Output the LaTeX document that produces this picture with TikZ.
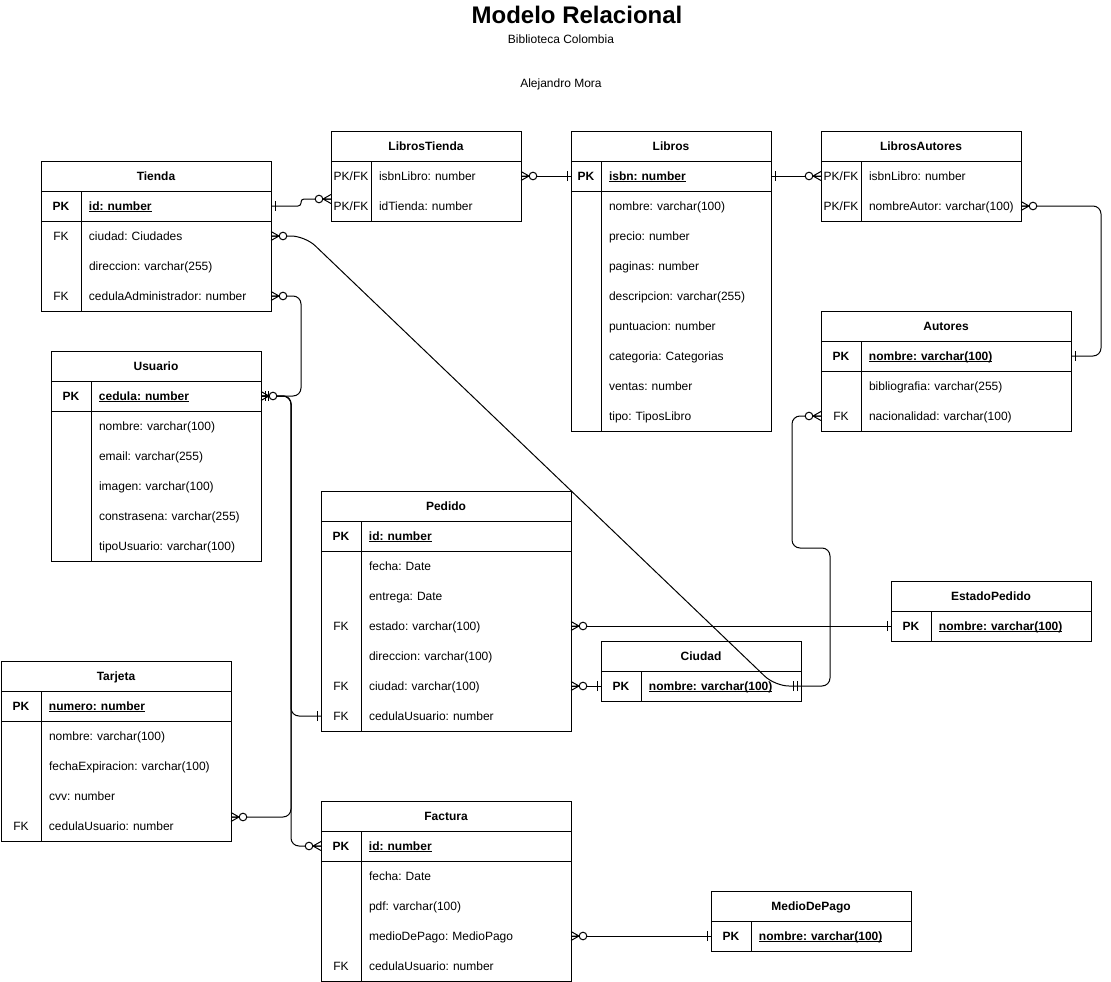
\documentclass[tikz,border=0pt]{standalone}
\usepackage{fontspec}
\setmainfont{Liberation Sans}
\usetikzlibrary{calc}
\frenchspacing
\newcommand\pkf[1]{\underline{\smash{\textbf{#1}}}}
\tikzset{
  tline/.style={line width=1pt, draw=black},
  hdrbox/.style={draw, line width=1pt, minimum height=30pt, inner sep=0pt, outer sep=0pt,
    text height=11pt, text depth=2.7pt, font=\fontsize{12pt}{14pt}\selectfont\bfseries},
  rowbox/.style={minimum height=30pt, inner sep=0pt, outer sep=0pt, align=left, anchor=north west,
    text height=11pt, text depth=2.7pt, font=\fontsize{12pt}{14pt}\selectfont\frenchspacing},
  ttl/.style={anchor=base, inner sep=0pt, font=\fontsize{24pt}{28pt}\selectfont\bfseries},
  txt/.style={anchor=base, inner sep=0pt, font=\fontsize{12pt}{14pt}\selectfont},
  conn/.style={line width=1pt, rounded corners=8pt},
  zmany/.pic={\draw[line width=1pt] (0,-4.5)--(8,0)--(0,4.5) (0,0)--(8,0);
    \draw[line width=1pt, fill=white] (12,0) circle[radius=3.8pt];},
  one/.pic={\draw[line width=1pt] (4,-5)--(4,5);},
  mone/.pic={\draw[line width=1pt] (4,-5)--(4,5) (7.5,-5)--(7.5,5);},
}
% name x y w kw nrows pk title
\newcommand\ertab[8]{%
  \node[hdrbox, minimum width=#4pt, anchor=north west] (#1) at (#2,#3) {#8};
  \draw[tline] (#2,#3) rectangle ({#2+#4},{#3+30+30*#6});
  \draw[tline] ({#2+#5},{#3+30}) -- ({#2+#5},{#3+30+30*#6});
  \ifnum#7=1\relax\draw[tline] (#2,{#3+60}) -- ({#2+#4},{#3+60});\fi
}
% name x ytop w kw key field
\newcommand\errow[7]{%
  \node[rowbox, text width=#4pt] (#1) at (#2,#3) {\frenchspacing\makebox[#5pt][c]{#6}\hspace{8pt}#7};
}
\begin{document}
\begin{tikzpicture}[x=1pt,y=-1pt]
\useasboundingbox (0,0) rectangle (1111,982);

\node[ttl] (title) at (577,23.5) {Modelo Relacional};
\node[txt] (sub) at (561,44) {Biblioteca Colombia};
\node[txt] (author) at (561,88) {Alejandro Mora};

% Tienda
\ertab{tienda}{41}{161}{230}{40}{4}{1}{Tienda}
\errow{tienda-id}{41}{191}{230}{40}{\textbf{PK}}{\pkf{id: number}}
\errow{tienda-ciudad}{41}{221}{230}{40}{FK}{ciudad: Ciudades}
\errow{tienda-dir}{41}{251}{230}{40}{}{direccion: varchar(255)}
\errow{tienda-admin}{41}{281}{230}{40}{FK}{cedulaAdministrador: number}

% LibrosTienda
\ertab{lt}{331}{131}{190}{40}{2}{0}{LibrosTienda}
\errow{lt-isbn}{331}{161}{190}{40}{PK/FK}{isbnLibro: number}
\errow{lt-tienda}{331}{191}{190}{40}{PK/FK}{idTienda: number}

% Libros
\ertab{libros}{571}{131}{200}{30}{9}{1}{Libros}
\errow{libros-isbn}{571}{161}{200}{30}{\textbf{PK}}{\pkf{isbn: number}}
\errow{libros-nombre}{571}{191}{200}{30}{}{nombre: varchar(100)}
\errow{libros-precio}{571}{221}{200}{30}{}{precio: number}
\errow{libros-paginas}{571}{251}{200}{30}{}{paginas: number}
\errow{libros-desc}{571}{281}{200}{30}{}{descripcion: varchar(255)}
\errow{libros-punt}{571}{311}{200}{30}{}{puntuacion: number}
\errow{libros-cat}{571}{341}{200}{30}{}{categoria: Categorias}
\errow{libros-ventas}{571}{371}{200}{30}{}{ventas: number}
\errow{libros-tipo}{571}{401}{200}{30}{}{tipo: TiposLibro}

% LibrosAutores
\ertab{la}{821}{131}{200}{40}{2}{0}{LibrosAutores}
\errow{la-isbn}{821}{161}{200}{40}{PK/FK}{isbnLibro: number}
\errow{la-autor}{821}{191}{200}{40}{PK/FK}{nombreAutor: varchar(100)}

% Autores
\ertab{autores}{821}{311}{250}{40}{3}{1}{Autores}
\errow{autores-nombre}{821}{341}{250}{40}{\textbf{PK}}{\pkf{nombre: varchar(100)}}
\errow{autores-bio}{821}{371}{250}{40}{}{bibliografia: varchar(255)}
\errow{autores-nac}{821}{401}{250}{40}{FK}{nacionalidad: varchar(100)}

% Usuario
\ertab{usuario}{51}{351}{210}{40}{6}{1}{Usuario}
\errow{usuario-cedula}{51}{381}{210}{40}{\textbf{PK}}{\pkf{cedula: number}}
\errow{usuario-nombre}{51}{411}{210}{40}{}{nombre: varchar(100)}
\errow{usuario-email}{51}{441}{210}{40}{}{email: varchar(255)}
\errow{usuario-imagen}{51}{471}{210}{40}{}{imagen: varchar(100)}
\errow{usuario-pass}{51}{501}{210}{40}{}{constrasena: varchar(255)}
\errow{usuario-tipo}{51}{531}{210}{40}{}{tipoUsuario: varchar(100)}

% Pedido
\ertab{pedido}{321}{491}{250}{40}{7}{1}{Pedido}
\errow{pedido-id}{321}{521}{250}{40}{\textbf{PK}}{\pkf{id: number}}
\errow{pedido-fecha}{321}{551}{250}{40}{}{fecha: Date}
\errow{pedido-entrega}{321}{581}{250}{40}{}{entrega: Date}
\errow{pedido-estado}{321}{611}{250}{40}{FK}{estado: varchar(100)}
\errow{pedido-dir}{321}{641}{250}{40}{}{direccion: varchar(100)}
\errow{pedido-ciudad}{321}{671}{250}{40}{FK}{ciudad: varchar(100)}
\errow{pedido-ced}{321}{701}{250}{40}{FK}{cedulaUsuario: number}

% EstadoPedido
\ertab{estado}{891}{581}{200}{40}{1}{0}{EstadoPedido}
\errow{estado-nombre}{891}{611}{200}{40}{\textbf{PK}}{\pkf{nombre: varchar(100)}}

% Ciudad
\ertab{ciudad}{601}{641}{200}{40}{1}{0}{Ciudad}
\errow{ciudad-nombre}{601}{671}{200}{40}{\textbf{PK}}{\pkf{nombre: varchar(100)}}

% Tarjeta
\ertab{tarjeta}{1}{661}{230}{40}{5}{1}{Tarjeta}
\errow{tarjeta-num}{1}{691}{230}{40}{\textbf{PK}}{\pkf{numero: number}}
\errow{tarjeta-nombre}{1}{721}{230}{40}{}{nombre: varchar(100)}
\errow{tarjeta-fecha}{1}{751}{230}{40}{}{fechaExpiracion: varchar(100)}
\errow{tarjeta-cvv}{1}{781}{230}{40}{}{cvv: number}
\errow{tarjeta-ced}{1}{811}{230}{40}{FK}{cedulaUsuario: number}

% Factura
\ertab{factura}{321}{801}{250}{40}{5}{1}{Factura}
\errow{factura-id}{321}{831}{250}{40}{\textbf{PK}}{\pkf{id: number}}
\errow{factura-fecha}{321}{861}{250}{40}{}{fecha: Date}
\errow{factura-pdf}{321}{891}{250}{40}{}{pdf: varchar(100)}
\errow{factura-medio}{321}{921}{250}{40}{}{medioDePago: MedioPago}
\errow{factura-ced}{321}{951}{250}{40}{FK}{cedulaUsuario: number}

% MedioDePago
\ertab{medio}{711}{891}{200}{40}{1}{0}{MedioDePago}
\errow{medio-nombre}{711}{921}{200}{40}{\textbf{PK}}{\pkf{nombre: varchar(100)}}

% helper coordinates
\coordinate (ltend) at ($(lt-tienda.west)+(0,-7)$);
\coordinate (tjend) at ($(tarjeta-ced.east)+(0,-9)$);
\coordinate (dg1) at (305,236);
\coordinate (dg2) at (775,686);
\coordinate (cb) at (830,548);

% connectors
\draw[conn, rounded corners=3pt] (tienda-id.east) -- ++(30,0) |- (ltend);
\draw[conn] (lt-isbn.east) -- (libros-isbn.west);
\draw[conn] (libros-isbn.east) -- (la-isbn.west);
\draw[conn] (la-autor.east) -- ++(80,0) |- (autores-nombre.east);
\draw[conn, rounded corners=14pt] (tienda-ciudad.east) -- (dg1) -- (dg2) -- (ciudad-nombre.east);
\draw[conn] (tienda-admin.east) -- ++(30,0) |- (usuario-cedula.east);
\draw[conn] (usuario-cedula.east) -- ++(30,0) |- (pedido-ced.west);
\draw[conn] (usuario-cedula.east) -- ++(30,0) |- (tjend);
\draw[conn] (usuario-cedula.east) -- ++(30,0) |- (factura-id.west);
\draw[conn] (pedido-estado.east) -- (estado-nombre.west);
\draw[conn] (pedido-ciudad.east) -- (ciudad-nombre.west);
\draw[conn] (autores-nac.west) -- ++(-29,0) |- (cb) |- (ciudad-nombre.east);
\draw[conn] (factura-medio.east) -- (medio-nombre.west);

% end marks
\pic at (tienda-id.east) {one};
\pic[rotate=180] at (ltend) {zmany};
\pic at (lt-isbn.east) {zmany};
\pic[rotate=180] at (libros-isbn.west) {one};
\pic at (libros-isbn.east) {one};
\pic[rotate=180] at (la-isbn.west) {zmany};
\pic at (la-autor.east) {zmany};
\pic at (autores-nombre.east) {one};
\pic at (tienda-ciudad.east) {zmany};
\pic[rotate=180] at (ciudad-nombre.east) {mone};
\pic at (tienda-admin.east) {zmany};
\pic at (usuario-cedula.east) {zmany};
\pic at (usuario-cedula.east) {mone};
\pic[rotate=180] at (pedido-ced.west) {one};
\pic at (tjend) {zmany};
\pic[rotate=180] at (factura-id.west) {zmany};
\pic at (pedido-estado.east) {zmany};
\pic[rotate=180] at (estado-nombre.west) {one};
\pic at (pedido-ciudad.east) {zmany};
\pic[rotate=180] at (ciudad-nombre.west) {one};
\pic[rotate=180] at (autores-nac.west) {zmany};
\pic at (factura-medio.east) {zmany};
\pic[rotate=180] at (medio-nombre.west) {one};
\end{tikzpicture}
\end{document}
